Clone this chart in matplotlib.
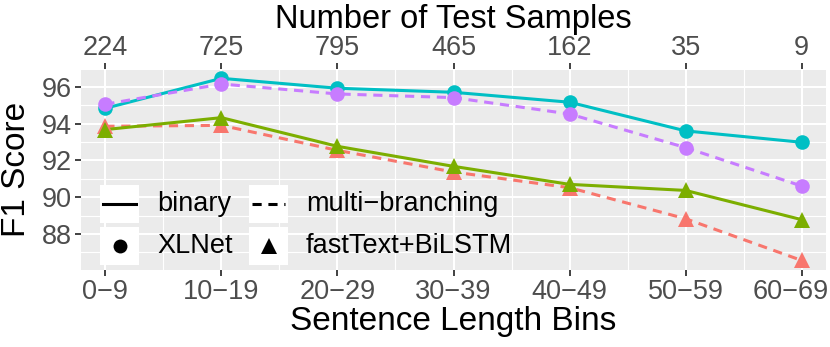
import numpy as np
import matplotlib
matplotlib.use('Agg')
import matplotlib.pyplot as plt
import matplotlib.transforms as mtransforms
from matplotlib.patches import Rectangle
from matplotlib.lines import Line2D

plt.rcParams['font.family'] = ['Liberation Sans', 'DejaVu Sans']

# data
bins = ['0\u22129', '10\u221219', '20\u221229', '30\u221239', '40\u221249', '50\u221259', '60\u221269']
n_samples = ['224', '725', '795', '465', '162', '35', '9']
xlnet_binary = [94.84, 96.47, 95.93, 95.71, 95.17, 93.61, 92.99]
xlnet_multi = [95.06, 96.16, 95.62, 95.42, 94.53, 92.70, 90.61]
ft_binary = [93.68, 94.33, 92.77, 91.68, 90.70, 90.37, 88.78]
ft_multi = [93.86, 93.91, 92.55, 91.37, 90.52, 88.83, 86.56]

RED, GREEN, TEAL, PURPLE = '#F8766D', '#7CAE00', '#00BFC4', '#C77CFF'
x = np.arange(1, len(bins) + 1)

W, H = 830, 347
fig = plt.figure(figsize=(W / 100, H / 100), dpi=100)
ax = fig.add_axes([81 / W, 1 - 270 / H, (826 - 81) / W, (270 - 69.5) / H])
ax.set_facecolor('#EBEBEB')
for s in ax.spines.values():
    s.set_visible(False)

lw = 2.2
dash = (0, (3.0, 2.2))
# lines first, then points (like geom_line + geom_point)
ax.plot(x, ft_multi, color=RED, lw=lw, ls=dash, zorder=3)
ax.plot(x, ft_binary, color=GREEN, lw=lw, zorder=3)
ax.plot(x, xlnet_binary, color=TEAL, lw=lw, zorder=3)
ax.plot(x, xlnet_multi, color=PURPLE, lw=lw, ls=dash, zorder=3)
ax.plot(x, ft_multi, '^', color=RED, ms=12, mew=0, zorder=4)
ax.plot(x, ft_binary, '^', color=GREEN, ms=12, mew=0, zorder=4)
ax.plot(x, xlnet_binary, 'o', color=TEAL, ms=10.5, mew=0, zorder=4)
ax.plot(x, xlnet_multi, 'o', color=PURPLE, ms=10.5, mew=0, zorder=4)

ax.set_xlim(0.79, 7.21)
ax.set_ylim(86.04, 96.95)
ax.set_xticks(x)
ax.set_xticklabels(bins)
ax.set_xticks(x[:-1] + 0.5, minor=True)
ax.set_yticks([88, 90, 92, 94, 96])
ax.set_yticks([87, 89, 91, 93, 95], minor=True)
ax.grid(True, which='major', color='white', lw=1.5, zorder=0)
ax.grid(True, which='minor', color='white', lw=0.8, zorder=0)
ax.set_axisbelow(True)
ax.tick_params(which='major', length=4.5, width=1.3, color='#333333',
               labelsize=19.5, labelcolor='#4D4D4D', pad=2)
ax.tick_params(which='minor', length=0)
# last bottom label sits a bit left of its tick in the original
last = ax.get_xticklabels()[-1]
last.set_transform(last.get_transform() + mtransforms.ScaledTranslation(-0.11, 0, fig.dpi_scale_trans))

top = ax.secondary_xaxis('top')
top.set_xticks(x)
top.set_xticklabels(n_samples)
top.tick_params(length=4.5, width=1.3, color='#333333', labelsize=19.5,
                labelcolor='#4D4D4D', pad=1.5)
for s in top.spines.values():
    s.set_visible(False)

ax.set_xlabel('Sentence Length Bins', fontsize=24, labelpad=1)
ax.set_ylabel('F1 Score', fontsize=24, labelpad=7)
# top axis title placed at a fixed height
fig.text((81 + 826) / 2 / W, 1 - 28 / H, 'Number of Test Samples', fontsize=23.5,
         ha='center', va='baseline')

# legend drawn by hand: white key boxes like ggplot
def px(xp, yp):
    return xp / W, 1 - yp / H

keys = [
    (100, 185, 'line', '-', 'binary'),
    (249, 185, 'line', '--', 'multi\u2212branching'),
    (100, 227, 'o', None, 'XLNet'),
    (249, 227, '^', None, 'fastText+BiLSTM'),
]
for kx, ky, kind, ls, label in keys:
    fig.add_artist(Rectangle(px(kx, ky + 38), 39 / W, 38 / H, transform=fig.transFigure,
                             facecolor='white', edgecolor='none', zorder=5))
    cy = ky + 19
    if kind == 'line':
        style = '-' if ls == '-' else (0, (3.0, 2.2))
        x0, y0 = px(kx + 3, cy)
        x1, _ = px(kx + 36, cy)
        fig.add_artist(Line2D([x0, x1], [y0, y0], transform=fig.transFigure,
                              color='black', lw=lw, ls=style, zorder=6))
    else:
        xc, yc = px(kx + 19.5, cy)
        fig.add_artist(Line2D([xc], [yc], transform=fig.transFigure, marker=kind,
                              color='black', ms=10 if kind == 'o' else 11, mew=0, zorder=6))
    tx, ty = px(kx + 57, cy)
    fig.text(tx, ty, label, fontsize=19.5, va='center', ha='left', zorder=6)

fig.savefig('out.png', dpi=100)
